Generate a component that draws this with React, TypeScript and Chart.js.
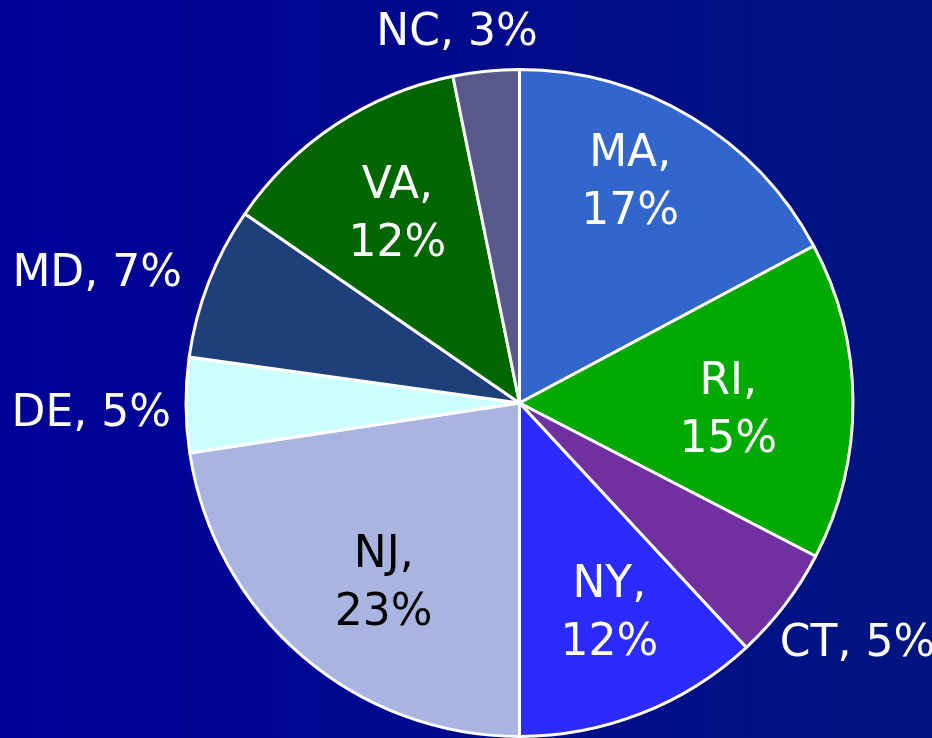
import React, { useEffect, useRef } from "react";
import { Chart, registerables } from "chart.js";

Chart.register(...registerables);

const states = ["MA", "RI", "CT", "NY", "NJ", "DE", "MD", "VA", "NC"];
const shares = [17.2, 15.4, 5.5, 11.9, 22.6, 4.6, 7.4, 12.2, 3.2];
const shareLabels = ["17%", "15%", "5%", "12%", "23%", "5%", "7%", "12%", "3%"];

export default function App() {
  const ref = useRef<HTMLCanvasElement | null>(null);

  useEffect(() => {
    if (!ref.current) return;
    const sliceColors = ["#3366CC", "#00AA00", "#7030A0", "#2B2BFF", "#AAB4E0", "#CCFFFF", "#1F3F7A", "#006600", "#58588A"];
    // per-slice label style: inside (two lines) or outside (one line)
    const placement = ["in", "in", "out", "in", "in", "out", "out", "in", "out"];
    const textColors = ["#fff", "#fff", "#fff", "#fff", "#000", "#fff", "#fff", "#fff", "#fff"];
    const nudges: [number, number][] = [
      [-6, -30], [-18, 5], [-21, 23], [7, -4], [12, 5], [5, 5], [-8, -5], [3, -3], [-27, -22],
    ];
    const FONT_SIZE = 44;

    const labelPlugin = {
      id: "sliceLabels",
      afterDatasetsDraw(chart: any) {
        const ctx = chart.ctx;
        const meta = chart.getDatasetMeta(0);
        ctx.save();
        ctx.font = `${FONT_SIZE}px "DejaVu Sans"`;
        ctx.textBaseline = "alphabetic";
        meta.data.forEach((arc: any, i: number) => {
          const { x, y, startAngle, endAngle, outerRadius } = arc.getProps(
            ["x", "y", "startAngle", "endAngle", "outerRadius"], true
          );
          const mid = (startAngle + endAngle) / 2;
          const name = states[i] + ",";
          const pct = shareLabels[i];
          ctx.fillStyle = textColors[i];
          if (placement[i] === "in") {
            const R = outerRadius * 0.68;
            const cx = x + Math.cos(mid) * R + nudges[i][0];
            const cy = y + Math.sin(mid) * R + nudges[i][1];
            ctx.textAlign = "center";
            ctx.fillText(name, cx, cy - 13);
            ctx.fillText(pct, cx, cy + 45);
          } else {
            const R = outerRadius + 20;
            const ax = x + Math.cos(mid) * R + nudges[i][0];
            const ay = y + Math.sin(mid) * R + nudges[i][1];
            const dx = ax - x;
            ctx.textAlign = dx < -150 ? "right" : dx > 150 ? "left" : "center";
            ctx.fillText(`${states[i]}, ${pct}`, ax, ay + 16);
          }
        });
        ctx.restore();
      },
    };

    const chart = new Chart(ref.current, {
      type: "pie",
      data: {
        labels: states,
        datasets: [
          {
            data: shares,
            backgroundColor: sliceColors,
            borderColor: "#FFFFFF",
            borderWidth: 3,
          },
        ],
      },
      options: {
        animation: false,
        responsive: true,
        maintainAspectRatio: false,
        layout: { padding: { left: 184, right: 77, top: 68, bottom: 0 } },
        plugins: {
          legend: { display: false },
          tooltip: { enabled: false },
        },
      },
      plugins: [labelPlugin],
    });
    return () => chart.destroy();
  }, []);

  return (
    <div
      style={{
        position: "fixed",
        left: 0,
        top: 0,
        width: 932,
        height: 738,
        background: "linear-gradient(to right, #000098, #001580)",
      }}
    >
      <canvas ref={ref} />
    </div>
  );
}
